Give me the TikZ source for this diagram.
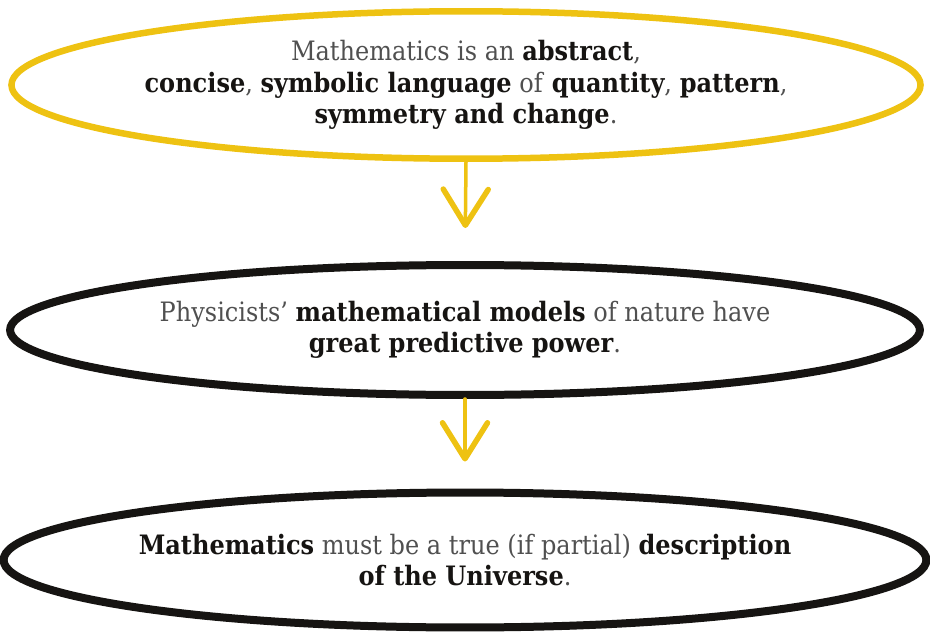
\documentclass[tikz,border=0pt]{standalone}
\usepackage{fontspec}
\setmainfont{DejaVu Serif}[FakeStretch=0.9]
\usetikzlibrary{arrows.meta, shapes.geometric, positioning}
\definecolor{claimyellow}{RGB}{238, 194, 18}
\definecolor{claimink}{RGB}{22, 20, 18}
\definecolor{claimgrey}{RGB}{80, 80, 80}

\newcommand{\hl}[1]{\textbf{\color{claimink}#1}}

\begin{document}
\begin{tikzpicture}[
    x=0.02cm, y=-0.02cm,
    claim/.style={ellipse, draw=claimink, line width=0.16cm, fill=white,
      align=center, text=claimgrey, inner sep=0pt,
      font=\fontsize{15.2}{17.8}\selectfont},
    lead/.style={claim, draw=claimyellow, line width=0.13cm},
    step arrow/.style={draw=claimyellow, line width=0.07cm, line cap=round,
      -{Straight Barb[length=0.72cm, width=0.9cm, line width=0.11cm, round]}},
  ]
  \useasboundingbox (0,0) rectangle (930,635);

  \node[lead, minimum width=17.85cm, minimum height=2.95cm] (abstract) at (466,85)
    {Mathematics is an \hl{abstract},\\
     \hl{concise}, \hl{symbolic language} of \hl{quantity}, \hl{pattern},\\
     \hl{symmetry and change}.};

  \node[claim, minimum width=18.2cm, minimum height=2.6cm] (models) at (465,330)
    {Physicists' \hl{mathematical models} of nature have\\
     \hl{great predictive power}.};

  \node[claim, minimum width=18.2cm, minimum height=2.7cm] (universe) at (465,560)
    {\hl{Mathematics} must be a true (if partial) \hl{description}\\
     \hl{of the Universe}.};

  % yellow arrows stop short of the next ellipse
  \draw[step arrow, shorten >=0.66cm] (abstract.south) -- (models.north);
  \draw[step arrow, shorten >=0.54cm] (models.south) -- (universe.north);
\end{tikzpicture}
\end{document}
